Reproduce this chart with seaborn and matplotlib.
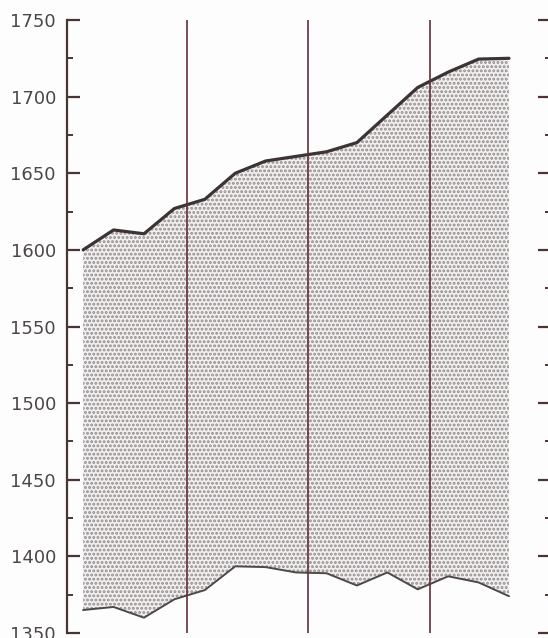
import numpy as np
import pandas as pd
import matplotlib
matplotlib.use("Agg")
import matplotlib.pyplot as plt
import seaborn as sns
from matplotlib.ticker import MultipleLocator

# -----------------------------
# DATA
# -----------------------------
periods = list(range(15))
upper_values = [1600, 1613, 1610.5, 1627, 1633, 1650, 1658, 1661, 1664, 1670,
                1688, 1706, 1716, 1724.5, 1725]
lower_values = [1365, 1367, 1360, 1372, 1378, 1393.5, 1393, 1389.5, 1389, 1381,
                1389.5, 1378.5, 1387, 1383, 1374]
divider_positions = [3.4, 7.4, 11.4]
y_ticks = [1350, 1400, 1450, 1500, 1550, 1600, 1650, 1700, 1750]

df = pd.DataFrame({"period": periods, "upper": upper_values, "lower": lower_values})

# -----------------------------
# STYLE
# -----------------------------
sns.set_theme(style="white")
plt.rcParams["font.family"] = ["DejaVu Sans"]
plt.rcParams["hatch.linewidth"] = 1.4
plt.rcParams["hatch.color"] = "#8c8686"

SPINE = "#4a3434"
TEXT = "#4c4646"

fig = plt.figure(figsize=(5.48, 6.38), dpi=100)
fig.patch.set_facecolor("#fdfdfd")
ax = fig.add_axes([67 / 548, 5 / 638, 484 / 548, 613 / 638])
ax.set_facecolor("#fdfdfd")

# shaded band between the two series
ax.fill_between(df["period"], df["lower"], df["upper"],
                facecolor="#f1efef", hatch="....", edgecolor="#938c8c",
                linewidth=0, zorder=1)

sns.lineplot(data=df, x="period", y="upper", ax=ax, color="#3c3434",
             linewidth=2.3, zorder=3)
sns.lineplot(data=df, x="period", y="lower", ax=ax, color="#4e4848",
             linewidth=1.4, zorder=3)

for xv in divider_positions:
    ax.axvline(xv, color="#62303a", linewidth=1.2, zorder=4)

ax.set_xlim(-0.53, 15.38)
ax.set_ylim(1350, 1750)

# axis dressing
for side in ["top", "bottom"]:
    ax.spines[side].set_visible(False)
for side in ["left", "right"]:
    ax.spines[side].set_color(SPINE)
    ax.spines[side].set_linewidth(1.6)

ax.set_yticks(y_ticks)
ax.yaxis.set_minor_locator(MultipleLocator(25))
ax.tick_params(axis="y", which="major", direction="in", length=9.5, width=1.6,
               color=SPINE, left=True, right=True, labelsize=13,
               labelcolor=TEXT, pad=8)
ax.tick_params(axis="y", which="minor", direction="in", length=4.5, width=1.4,
               color=SPINE, left=True, right=True)
ax.set_xticks([])
ax.set_xlabel("")
ax.set_ylabel("")

plt.savefig("out.png", dpi=100, facecolor=fig.get_facecolor())
plt.close()
